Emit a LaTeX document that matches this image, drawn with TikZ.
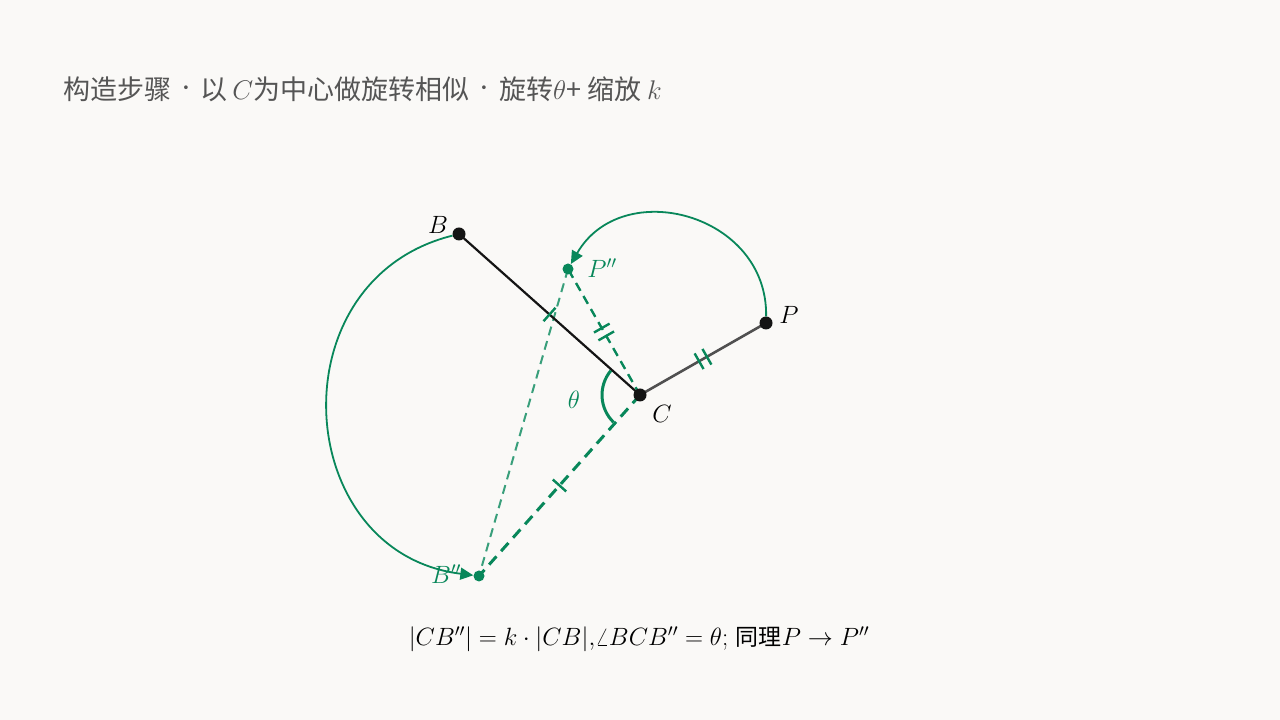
\RequirePackage{fix-cm}
\documentclass[tikz,border=0pt]{standalone}
\usepackage{fontspec}
\newfontfamily\cjk{Noto Sans CJK SC}
\usetikzlibrary{arrows.meta,decorations.markings,calc}
\definecolor{bg}{RGB}{250,249,247}
\definecolor{G}{RGB}{8,135,90}
\definecolor{ttl}{RGB}{85,85,85}
\definecolor{dk}{RGB}{20,20,20}
\definecolor{gr}{RGB}{80,80,80}
\newcommand{\tdot}{\hspace{10pt}\raisebox{2.5pt}{\scalebox{1.3}{$\cdot$}}\hspace{10pt}}
\begin{document}
\begin{tikzpicture}[x=1pt,y=1pt,
  blackdot/.style={circle,fill=dk,inner sep=0pt,minimum size=13pt},
  greendot/.style={circle,fill=G,inner sep=0pt,minimum size=11pt},
  lbl/.style={font=\fontsize{25}{30}\selectfont,inner sep=0pt},
  tickone/.style={postaction={decorate,decoration={markings,mark=at position 0.5 with {\draw[G,solid,line width=2.4pt] (0,-9pt)--(0,9pt);}}}},
  ticktwo/.style={postaction={decorate,decoration={markings,mark=at position 0.5 with {\draw[G,solid,line width=2.4pt] (-4.5pt,-9pt)--(-4.5pt,9pt) (4.5pt,-9pt)--(4.5pt,9pt);}}}},
  movearc/.style={G,line width=1.8pt,-{Triangle[length=13pt,width=12pt]}},
]
\fill[bg] (0,0) rectangle (1280,720);
\useasboundingbox (0,0) rectangle (1280,720);

% title
\node[anchor=west,inner sep=0pt,text=ttl,font=\cjk\fontsize{27}{30}\selectfont] (title) at (63,631)
  {构造步骤\tdot 以\,$C$为中心做旋转相似\tdot 旋转$\theta$+ 缩放\hspace{6pt}$k$};

% points
\coordinate (C) at (640,325);
\coordinate (B) at (459,486);
\coordinate (P) at (766,397);
\coordinate (Pp) at (568,451);
\coordinate (Bp) at (479,144);

% segments
\draw[G!80,line width=2pt,dash pattern=on 9pt off 6pt] (Pp) -- (Bp);
\draw[dk,line width=2.2pt,tickone] (B) -- (C);
\draw[gr,line width=2.6pt,ticktwo] (C) -- (P);
\draw[G,line width=2.4pt,dash pattern=on 9pt off 6pt,ticktwo] (C) -- (Pp);
\draw[G,line width=3pt,dash pattern=on 11pt off 7pt,tickone] (C) -- (Bp);

% angle
\draw[G,line width=3pt] ($(C)+(140:38)$) arc[start angle=140,end angle=226,radius=38];
\node[lbl,text=G] (theta) at (574,320) {$\theta$};

% dots
\node[blackdot] (Cd) at (C) {};
\node[blackdot] (Bd) at (B) {};
\node[blackdot] (Pd) at (P) {};
\node[greendot] (Ppd) at (Pp) {};
\node[greendot] (Bpd) at (Bp) {};

% arcs
\draw[movearc] (Bd) to[out=-166,in=173,looseness=1.38] (Bpd);
\draw[movearc] (Pd) to[out=89,in=60,looseness=1.3] (Ppd);

% labels
\node[lbl] (lB) at (438,495) {$B$};
\node[lbl] (lP) at (789,405) {$P$};
\node[lbl,text=G] (lPp) at (602,452) {$P''$};
\node[lbl] (lC) at (662,306) {$C$};
\node[lbl,text=G] (lBp) at (446,146) {$B''$};

% formula
\node[font=\fontsize{25}{30}\selectfont,inner sep=0pt] (formula) at (639,81)
  {$|CB''| = k\cdot|CB|{,}\angle BCB''=\theta;$ {\cjk\fontsize{23}{30}\selectfont 同理}$P\to P''$};
\end{tikzpicture}
\end{document}
